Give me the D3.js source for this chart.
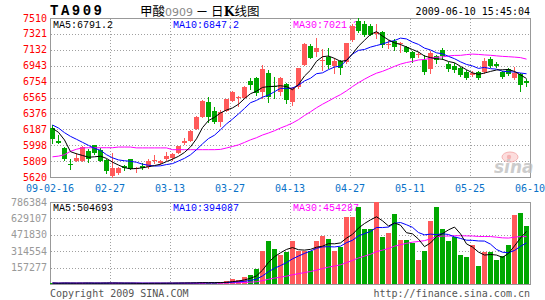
<!DOCTYPE html>
<html>
<head>
<meta charset="utf-8">
<script src="https://cdn.jsdelivr.net/npm/d3@7"></script>
<style>
  body { margin: 0; background: #fff; }
  svg text { font-family: "DejaVu Sans Mono", monospace; }
</style>
</head>
<body>
<svg id="chart" width="545" height="300"></svg>
<script>
// axis labels
const priceTicks = [7510, 7321, 7132, 6943, 6754, 6565, 6376, 6187, 5998, 5809, 5620];
const volumeTicks = [786384, 629107, 471830, 314554, 157277];
const dateTicks = ["09-02-16", "02-27", "03-13", "03-27", "04-13", "04-27", "05-11", "05-25", "06-10"];

// daily candles
const opens = [6199,6052,5969,5780,5814,5814,5933,5996,5941,5822,5632,5664,5751,5834,5711,5751,5735,5806,5790,5834,
  5842,5909,6020,6048,6191,6337,6515,6409,6278,6405,6527,6555,6563,6761,6793,6626,6852,6700,6634,6722,
  6510,6694,6955,7181,7100,6995,7050,6945,6995,6990,7245,7480,7440,7420,7318,7345,7185,7240,7195,7170,
  7110,7070,7015,6900,7060,7130,6965,6945,6916,6872,6830,6872,6870,7025,6962,6868,6908,6793,6850,6767];
const highs = [6238,6120,5975,5830,5900,5989,5949,6000,5961,5830,5901,5735,5763,5834,5743,5790,5830,5881,5822,5921,
  5901,5992,6080,6179,6345,6535,6567,6456,6416,6547,6646,6583,6702,6801,6813,6951,6892,6813,6813,6733,
  6690,6920,7210,7197,7270,7137,7150,7035,7010,7215,7435,7506,7470,7440,7437,7350,7250,7255,7229,7180,
  7115,7100,7065,7118,7075,7150,6985,6970,6930,6890,6880,6885,7040,7045,6990,6880,6920,6932,6855,6780];
const lows = [6028,6020,5822,5715,5810,5810,5802,5890,5810,5664,5620,5656,5703,5711,5675,5711,5723,5790,5775,5822,
  5822,5901,6008,6048,6191,6330,6278,6258,6230,6405,6523,6465,6555,6666,6595,6555,6516,6555,6595,6496,
  6470,6680,6950,7030,7060,6890,6910,6860,6850,6975,7240,7340,7300,7305,7272,7170,7150,7130,7110,7100,
  6990,7050,6840,6852,6980,7020,6880,6865,6815,6785,6820,6785,6860,6930,6925,6800,6830,6785,6638,6700];
const closes = [6072,6028,5830,5770,5850,5973,5834,5909,5814,5691,5723,5723,5723,5715,5731,5723,5810,5826,5810,5870,
  5894,5989,6052,6167,6337,6527,6337,6274,6397,6543,6634,6575,6694,6714,6615,6904,6575,6690,6793,6535,
  6680,6912,7200,7039,7150,7005,6955,7000,6915,7209,7420,7360,7310,7312,7342,7185,7200,7165,7208,7110,
  7040,7085,6872,7090,7005,7064,6902,6886,6836,6797,6862,6797,6995,6940,6945,6812,6842,6856,6714,6733];
const volumes = [9000,6000,11000,7000,8000,10000,9000,7000,8000,12000,11000,6000,5000,8000,7000,6000,9000,8000,7000,10000,
  9000,12000,11000,10000,14000,16000,12000,13000,15000,25600,48000,41600,67100,89500,143900,319700,415600,338900,278000,305000,
  409200,313300,319700,313300,409200,457100,434800,313300,354800,639300,639300,735300,530700,530700,786384,447600,485900,674500,425200,425200,
  393200,233400,313300,601000,735300,530700,415600,447600,274900,255700,377200,175800,303700,303700,227000,265300,370000,660000,680000,553000];

// moving averages as drawn
const ma5 = [6199,6151,6060,5921,5896,5876,5855,5860,5867,5841,5796,5762,5731,5717,5721,5729,5742,5756,5772,5803,
  5832,5866,5912,5978,6074,6207,6291,6329,6382,6416,6441,6485,6552,6610,6640,6685,6695,6698,6705,6695,
  6658,6720,6820,6890,6995,7050,7058,7030,6995,7005,7085,7175,7245,7315,7348,7295,7250,7215,7195,7165,
  7135,7105,7058,7039,7025,7020,6993,6978,6935,6895,6858,6840,6856,6875,6892,6895,6898,6875,6833,6791.2];
const ma10 = [6238,6202,6147,6103,6068,6032,5996,5961,5937,5885,5848,5823,5813,5807,5795,5772,5760,5750,5753,5768,
  5779,5810,5842,5884,5945,6014,6077,6117,6182,6251,6308,6370,6435,6503,6531,6569,6593,6634,6674,6673,
  6678,6711,6762,6794,6848,6858,6896,6927,6939,7007,7081,7125,7136,7164,7183,7201,7225,7242,7271,7261,
  7223,7196,7152,7130,7096,7084,7054,7026,6989,6958,6940,6911,6923,6908,6902,6877,6871,6868,6856,6847.2];
const ma30 = [5860,5868,5885,5925,5950,5966,5968,5968,5968,5968,5968,5976,5976,5976,5966,5966,5966,5966,5966,5966,
  5945,5945,5945,5945,5945,5945,5945,5945,5948,5965,5983,6002,6031,6062,6087,6119,6143,6170,6202,6230,
  6262,6302,6351,6395,6443,6485,6523,6563,6599,6644,6695,6741,6783,6821,6854,6876,6905,6935,6962,6981,
  6994,7011,7017,7030,7043,7048,7059,7065,7066,7075,7081,7077,7071,7067,7060,7054,7050,7045,7039,7021.3];
const vma5 = [9000,7500,8700,8300,8200,8400,9000,8200,8400,9200,9400,8800,8400,8200,7400,6400,7000,7600,7400,8000,
  8600,9200,9800,10400,11200,12600,12600,13000,14000,16300,22700,28600,39500,54400,78000,132400,207200,261500,299200,331400,
  349300,328900,325000,332100,352900,362500,386800,385500,393800,439900,476300,536400,579900,615100,644500,606100,556300,585000,563900,491700,
  480800,430300,358100,393200,455200,482700,519200,546000,480800,384900,354200,306200,277500,283200,277500,255100,293900,365200,440500,504693];
const vma10 = [9000,7500,8700,8300,8200,8500,8600,8400,8300,8700,8900,8900,8300,8400,8300,7900,7900,8000,7900,7700,
  7500,8100,8700,8900,9600,10600,10900,11400,12200,13760,17660,20620,26230,34180,47170,77540,117900,150490,176790,204730,
  240850,268020,293280,315660,342190,355930,357850,355290,362970,396400,419410,461610,482710,504450,542170,541220,546330,582450,589490,568080,
  543470,493280,471540,478570,473460,481770,474740,452050,437020,420070,418470,412710,411750,382020,331190,304650,300090,321330,361840,394087];
const vma30 = [9000,7500,8700,8300,8200,8500,8600,8400,8300,8700,8900,8700,8400,8400,8300,8200,8200,8200,8100,8200,
  8200,8300,8400,8500,8700,8900,9000,9100,9300,10050,11350,12540,14410,17160,21690,32010,45570,56630,65630,75400,
  88670,98910,109400,119580,132990,148020,162220,172390,183990,204960,225970,250080,267410,284760,310510,324900,340690,362740,376420,389740,
  401240,407640,415840,432890,452610,459640,459640,463260,463160,461520,460450,455870,455330,455010,448940,442550,440390,449000,455000,454287];

const left = 50, right = 530;
const priceTop = 18, priceBottom = 177, volTop = 202, volBottom = 284;
const upColor = "#ff5a5a", downColor = "#00a800";
const gridColor = "#a0a0a0", frameColor = "#999";
const capFont = "'Liberation Mono', monospace";

const svg = d3.select("#chart");
svg.append("rect").attr("width", 545).attr("height", 300).attr("fill", "#fff");

const x = d3.scaleBand()
  .domain(d3.range(closes.length))
  .range([left, right])
  .paddingInner(1 / 6)
  .paddingOuter(1 / 12)
  .align(0);
const mid = i => x(i) + x.bandwidth() / 2;

const yPrice = d3.scaleLinear().domain([5620, 7510]).range([priceBottom, priceTop]);
const yVol = d3.scaleLinear().domain([0, 786384]).range([volBottom, volTop]);

// header
svg.append("text").attr("x", 50).attr("y", 15)
  .style("font-family", "'Liberation Mono', monospace").style("font-weight", "bold")
  .style("font-size", "14px").style("letter-spacing", "2.5px").text("TA909");
const title = svg.append("text").attr("x", 140).attr("y", 15.5)
  .style("font-family", "'Noto Sans CJK SC', sans-serif").style("font-size", "12.5px");
title.append("tspan").attr("fill", "#000").text("甲酸");
title.append("tspan").attr("fill", "#888").style("font-family", "'DejaVu Sans', sans-serif")
  .style("font-size", "11px").text("0909");
title.append("tspan").attr("fill", "#000").text(" － 日");
title.append("tspan").style("font-family", "'DejaVu Serif', serif").style("font-weight", "bold").text("K");
title.append("tspan").text("线图");
svg.append("text").attr("x", right).attr("y", 15).attr("text-anchor", "end")
  .style("font-size", "10px").attr("fill", "#000").text("2009-06-10 15:45:04");

// panel frames and grids
function panel(top, bottom, ticks, yScale) {
  svg.append("rect").attr("x", left + 0.5).attr("y", top + 0.5)
    .attr("width", right - left).attr("height", bottom - top)
    .attr("fill", "none").attr("stroke", frameColor);
  ticks.forEach(t => {
    const yy = Math.round(yScale(t));
    if (yy <= top + 1 || yy >= bottom - 1) return;
    svg.append("line").attr("x1", left + 1).attr("x2", right)
      .attr("y1", yy + 0.5).attr("y2", yy + 0.5)
      .attr("stroke", gridColor).attr("stroke-dasharray", "1,2");
  });
  for (let k = 1; k < dateTicks.length - 1; k++) {
    const xx = x(k * 10);
    svg.append("line").attr("x1", xx + 0.5).attr("x2", xx + 0.5)
      .attr("y1", top + 1).attr("y2", bottom)
      .attr("stroke", gridColor).attr("stroke-dasharray", "1,2");
  }
}
panel(priceTop, priceBottom, priceTicks, yPrice);
panel(volTop, volBottom, volumeTicks, yVol);

// axis labels
svg.append("g").selectAll("text").data(priceTicks).join("text")
  .attr("x", 47).attr("y", d => yPrice(d) + 3.5).attr("text-anchor", "end")
  .attr("fill", "#ff0000").style("font-size", "10px").text(d => d);
svg.append("g").selectAll("text").data(volumeTicks).join("text")
  .attr("x", 47).attr("y", d => yVol(d) + 3.5).attr("text-anchor", "end")
  .attr("fill", "#999").style("font-size", "10px").text(d => d);
svg.append("g").selectAll("text").data(dateTicks).join("text")
  .attr("x", (d, k) => k * 10 < closes.length ? x(k * 10) : right)
  .attr("y", 192).attr("text-anchor", "middle")
  .attr("fill", "#0a72c8").style("font-size", "10px").text(d => d);

// MA captions
const last = closes.length - 1;
function captions(y0, a, b, c) {
  [[53, "#000", a], [173, "#0000ff", b], [293, "#ff00ff", c]].forEach(([xx, col, txt]) => {
    svg.append("text").attr("x", xx).attr("y", y0).attr("fill", col)
      .style("font-family", capFont).style("font-size", "10px").text(txt);
  });
}
captions(28, "MA5:" + ma5[last].toFixed(1), "MA10:" + ma10[last].toFixed(1), "MA30:" + ma30[last].toFixed(1));
captions(211, "MA5:" + vma5[last], "MA10:" + vma10[last], "MA30:" + vma30[last]);

// sina watermark
const logo = svg.append("g").attr("opacity", 0.75);
logo.append("ellipse").attr("cx", 510).attr("cy", 157).attr("rx", 8).attr("ry", 5)
  .attr("fill", "#fbd2d2").attr("stroke", "#f29a9a");
logo.append("circle").attr("cx", 509).attr("cy", 157).attr("r", 2.2).attr("fill", "#f29a9a");
logo.append("text").attr("x", 494).attr("y", 173)
  .style("font-family", "'DejaVu Sans', sans-serif").style("font-style", "italic").style("font-weight", "bold")
  .style("font-size", "17px").attr("fill", "#bbb").text("sina");

// candles
const candles = svg.append("g");
closes.forEach((c, i) => {
  const o = opens[i];
  const col = c >= o ? upColor : downColor;
  candles.append("line")
    .attr("x1", mid(i)).attr("x2", mid(i))
    .attr("y1", Math.round(yPrice(highs[i]))).attr("y2", Math.round(yPrice(lows[i])) + 1)
    .attr("stroke", col);
  const t = Math.round(yPrice(Math.max(o, c)));
  const b = Math.round(yPrice(Math.min(o, c)));
  candles.append("rect")
    .attr("x", x(i)).attr("y", t)
    .attr("width", x.bandwidth()).attr("height", Math.max(1, b - t))
    .attr("fill", col);
});

// volume bars
svg.append("g").selectAll("rect").data(volumes).join("rect")
  .attr("x", (d, i) => x(i))
  .attr("y", d => Math.min(volBottom - 1, Math.round(yVol(d))))
  .attr("width", x.bandwidth())
  .attr("height", d => Math.max(1, volBottom - Math.round(yVol(d))))
  .attr("fill", (d, i) => closes[i] >= opens[i] ? upColor : downColor);

// moving average lines
function maLine(values, yScale, color) {
  svg.append("path")
    .attr("d", d3.line().x((d, i) => mid(i)).y(d => yScale(d))(values))
    .attr("fill", "none").attr("stroke", color).attr("stroke-width", 1);
}
maLine(ma30, yPrice, "#ff00ff");
maLine(ma10, yPrice, "#0000ff");
maLine(ma5, yPrice, "#000");
maLine(vma30, yVol, "#ff00ff");
maLine(vma10, yVol, "#0000ff");
maLine(vma5, yVol, "#000");

// footer
svg.append("text").attr("x", 50).attr("y", 297).attr("fill", "#555").style("font-size", "10px")
  .text("Copyright 2009 SINA.COM");
svg.append("text").attr("x", right).attr("y", 297).attr("text-anchor", "end").attr("fill", "#555")
  .style("font-size", "10px").text("http://finance.sina.com.cn");
</script>
</body>
</html>
